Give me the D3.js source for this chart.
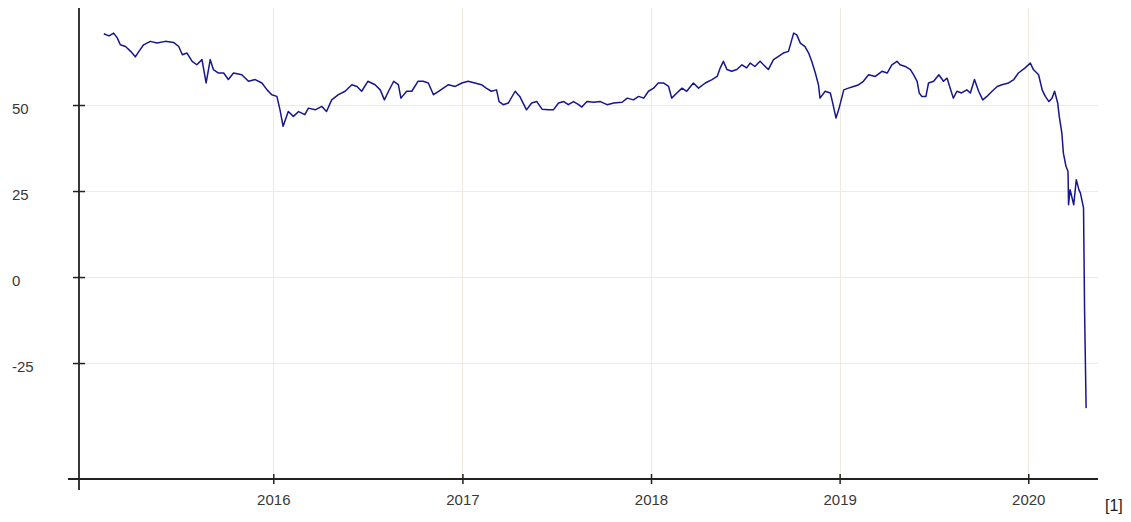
<!DOCTYPE html>
<html>
<head>
<meta charset="utf-8">
<script src="https://cdn.jsdelivr.net/npm/d3@7"></script>
<style>
  html, body { margin: 0; padding: 0; background: #fff; }
  svg { display: block; }
  .lbl { font-family: "Liberation Sans", Arial, sans-serif; font-size: 15px; fill: #383838; }
</style>
</head>
<body>
<svg id="chart"></svg>
<script>
// daily series (approx.)
var dates = [
  "2015-02-07","2015-02-17","2015-02-26","2015-03-05","2015-03-11","2015-03-21","2015-03-31","2015-04-09",
  "2015-04-16","2015-04-25","2015-05-08","2015-05-21","2015-06-06","2015-06-22","2015-07-02","2015-07-09",
  "2015-07-18","2015-07-28","2015-08-06","2015-08-16","2015-08-24","2015-09-01","2015-09-07","2015-09-17",
  "2015-09-27","2015-10-06","2015-10-16","2015-11-01","2015-11-14","2015-11-27","2015-12-10","2015-12-20",
  "2015-12-29","2016-01-08","2016-01-14","2016-01-20","2016-01-30","2016-02-09","2016-02-19","2016-03-02",
  "2016-03-09","2016-03-22","2016-04-04","2016-04-13","2016-04-23","2016-05-06","2016-05-19","2016-06-01",
  "2016-06-11","2016-06-20","2016-07-02","2016-07-16","2016-07-26","2016-08-03","2016-08-11","2016-08-21",
  "2016-08-30","2016-09-04","2016-09-15","2016-09-25","2016-10-07","2016-10-17","2016-10-27","2016-11-06",
  "2016-11-16","2016-11-25","2016-12-05","2016-12-18","2016-12-31","2017-01-12","2017-01-25","2017-02-07",
  "2017-02-16","2017-02-26","2017-03-08","2017-03-13","2017-03-21","2017-03-31","2017-04-13","2017-04-22",
  "2017-05-05","2017-05-15","2017-05-25","2017-06-04","2017-06-17","2017-06-26","2017-07-06","2017-07-16",
  "2017-07-25","2017-08-04","2017-08-14","2017-08-20","2017-08-30","2017-09-12","2017-09-25","2017-10-08",
  "2017-10-21","2017-11-06","2017-11-16","2017-11-28","2017-12-08","2017-12-18","2017-12-27","2018-01-06",
  "2018-01-15","2018-01-25","2018-02-04","2018-02-10","2018-02-20","2018-03-02","2018-03-11","2018-03-24",
  "2018-04-03","2018-04-16","2018-04-29","2018-05-09","2018-05-15","2018-05-21","2018-05-28","2018-06-06",
  "2018-06-16","2018-06-26","2018-07-05","2018-07-12","2018-07-21","2018-07-31","2018-08-10","2018-08-16",
  "2018-08-26","2018-09-04","2018-09-14","2018-09-24","2018-10-04","2018-10-10","2018-10-17","2018-10-26",
  "2018-11-02","2018-11-08","2018-11-15","2018-11-21","2018-11-24","2018-12-04","2018-12-14","2018-12-18",
  "2018-12-25","2018-12-31","2019-01-09","2019-01-18","2019-01-28","2019-02-07","2019-02-16","2019-02-26",
  "2019-03-11","2019-03-24","2019-04-03","2019-04-12","2019-04-22","2019-04-28","2019-05-08","2019-05-18",
  "2019-05-24","2019-05-31","2019-06-04","2019-06-09","2019-06-17","2019-06-22","2019-07-02","2019-07-12",
  "2019-07-21","2019-07-28","2019-08-03","2019-08-09","2019-08-16","2019-08-25","2019-09-04","2019-09-11",
  "2019-09-19","2019-09-27","2019-10-05","2019-10-13","2019-10-23","2019-11-02","2019-11-11","2019-11-24",
  "2019-12-04","2019-12-13","2019-12-26","2020-01-05","2020-01-11","2020-01-21","2020-01-28","2020-02-03",
  "2020-02-10","2020-02-16","2020-02-21","2020-02-27","2020-03-01","2020-03-06","2020-03-09","2020-03-14",
  "2020-03-18","2020-03-19","2020-03-22","2020-03-29","2020-04-03","2020-04-08","2020-04-11","2020-04-17",
  "2020-04-19","2020-04-22"
];
var values = [
  70.7,70.1,70.9,69.5,67.5,67.0,65.6,64.0,
  65.6,67.5,68.5,68.0,68.5,68.2,67.0,64.6,
  65.1,62.7,61.7,63.2,56.4,63.2,60.3,59.3,
  59.3,57.4,59.3,58.8,56.9,57.4,56.4,54.4,
  53.0,52.5,48.6,43.8,48.1,46.7,48.1,47.2,
  49.1,48.6,49.6,48.1,51.5,53.0,54.0,55.9,
  55.4,54.0,56.9,55.9,54.4,51.5,54.0,56.9,
  55.9,52.0,54.0,54.0,56.9,56.9,56.4,53.0,
  54.0,54.9,55.9,55.4,56.4,56.9,56.4,55.9,
  54.9,54.0,54.4,51.0,50.1,50.6,54.0,52.5,
  48.6,50.6,51.0,48.8,48.6,48.6,50.6,51.0,
  50.1,51.0,50.1,49.4,51.0,50.8,51.0,50.1,
  50.6,50.8,52.0,51.5,52.5,52.0,54.0,54.9,
  56.4,56.4,55.4,52.0,53.5,54.9,54.0,56.4,
  54.9,56.4,57.4,58.3,60.8,62.7,60.3,59.8,
  60.3,61.7,60.8,62.2,61.2,62.7,61.2,60.3,
  63.2,64.1,65.1,65.6,70.9,70.4,68.0,67.0,
  65.1,62.7,59.3,55.9,52.0,54.0,53.5,51.0,
  46.2,49.1,54.4,54.9,55.4,55.9,56.9,58.8,
  58.3,59.8,59.3,61.7,62.7,61.7,61.2,60.3,
  58.8,56.9,53.5,52.5,52.5,56.4,56.9,58.8,
  56.9,57.8,54.9,52.0,54.0,53.5,54.4,53.5,
  57.4,54.0,51.5,52.5,54.0,55.4,55.9,56.4,
  57.4,59.3,60.8,62.2,60.3,58.8,54.4,52.5,
  51.0,52.0,54.0,50.6,46.7,41.9,36.0,32.2,
  30.7,21.0,25.4,21.0,28.3,25.4,24.4,20.1,
  -9.5,-38.1
];
var yTicks = [-25, 0, 25, 50];
var xTickYears = [2016, 2017, 2018, 2019, 2020];
var note = "[1]";

var W = 1131, H = 522;
var parse = d3.utcParse("%Y-%m-%d");
var data = dates.map(function(d, i) { return [parse(d), values[i]]; });

var x = d3.scaleUtc()
  .domain([parse("2014-12-21"), parse("2020-05-15")])
  .range([79, 1098]);
var y = d3.scaleLinear().domain([-58.7, 75]).range([479, 19]);

var svg = d3.select("#chart").attr("width", W).attr("height", H);

var xTicks = xTickYears.map(function(yr) { return new Date(Date.UTC(yr, 0, 1)); });

// grid
var grid = svg.append("g").attr("stroke", "#efebdf").attr("stroke-width", 1);
grid.selectAll(".gy").data(yTicks).enter().append("line")
  .attr("x1", x.range()[0]).attr("x2", x.range()[1])
  .attr("y1", function(d) { return Math.round(y(d)) + 0.5; })
  .attr("y2", function(d) { return Math.round(y(d)) + 0.5; });
grid.selectAll(".gx").data(xTicks).enter().append("line")
  .attr("y1", y.range()[1] - 11).attr("y2", y.range()[0])
  .attr("x1", function(d) { return Math.round(x(d)) + 0.5; })
  .attr("x2", function(d) { return Math.round(x(d)) + 0.5; });

// series
var line = d3.line()
  .x(function(d) { return x(d[0]); })
  .y(function(d) { return y(d[1]); });
svg.append("path").datum(data)
  .attr("d", line)
  .attr("fill", "none")
  .attr("stroke", "#16168e")
  .attr("stroke-width", 1.5)
  .attr("stroke-linejoin", "round");

// axes
var yAxis = d3.axisLeft(y).tickValues(yTicks)
  .tickFormat(function(d) { return String(d); })
  .tickSizeOuter(0).tickSize(6);
var gy = svg.append("g").attr("transform", "translate(" + x.range()[0] + ",0)").call(yAxis);
gy.select(".domain").remove();
gy.selectAll(".tick line").attr("x1", -6).attr("x2", 6).attr("stroke", "#222").attr("stroke-width", 1.5);
gy.selectAll(".tick text").attr("class", "lbl")
  .attr("x", -67).attr("dy", "0.32em").attr("y", 4)
  .attr("text-anchor", "start");

var xAxis = d3.axisBottom(x).tickValues(xTicks).tickFormat(d3.utcFormat("%Y")).tickSizeOuter(0).tickSize(5);
var gx = svg.append("g").attr("transform", "translate(0," + y.range()[0] + ")").call(xAxis);
gx.select(".domain").remove();
gx.selectAll(".tick line").attr("y1", -5).attr("y2", 5).attr("stroke", "#222").attr("stroke-width", 1.5);
gx.selectAll(".tick text").attr("class", "lbl").attr("y", 21).attr("dy", "0.32em");

svg.append("line")
  .attr("x1", x.range()[0] - 11).attr("x2", x.range()[1])
  .attr("y1", y.range()[0]).attr("y2", y.range()[0])
  .attr("stroke", "#222").attr("stroke-width", 1.8);
svg.append("line")
  .attr("x1", x.range()[0]).attr("x2", x.range()[0])
  .attr("y1", y.range()[1] - 11).attr("y2", y.range()[0] + 11)
  .attr("stroke", "#222").attr("stroke-width", 1.8);

svg.append("text").attr("class", "lbl")
  .attr("x", 1105).attr("y", 511)
  .style("fill", "#222").style("font-size", "16px")
  .text(note);
</script>
</body>
</html>
